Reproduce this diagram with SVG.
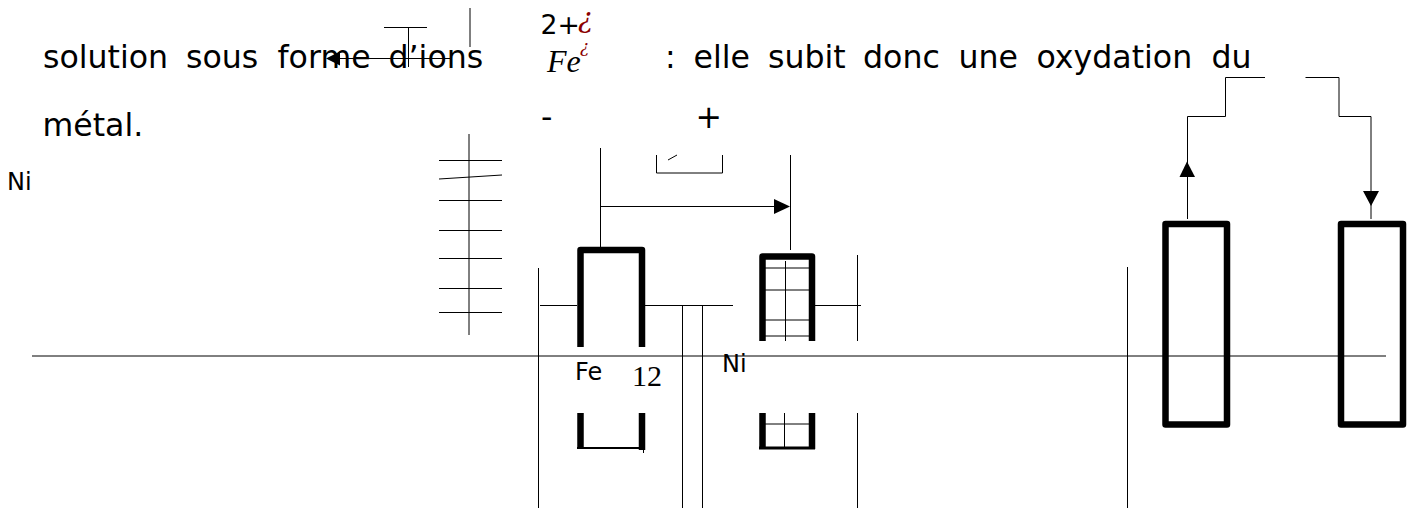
<svg xmlns="http://www.w3.org/2000/svg" width="1409" height="508" viewBox="0 0 1409 508">
<style>
.t{font-family:"DejaVu Sans",sans-serif;fill:#000}
.m{font-size:31.600px}
.s{font-size:24px}
.f{font-family:"Liberation Serif",serif;fill:#000}
.r{font-family:"DejaVu Serif",serif;font-style:italic;fill:#8b0000}
.l{fill:none;stroke:#000;stroke-width:1}
.e{fill:none;stroke:#000;stroke-width:6.500;stroke-linejoin:round}
</style>
<rect width="1409" height="508" fill="#fff"/>
<g id="texts">
<text class="t m" x="43" y="67.500">solution</text>
<text class="t m" x="186" y="67.500">sous</text>
<text class="t m" x="277.500" y="67.500">forme</text>
<text class="t m" x="388.500" y="67.500">d’ions</text>
<text class="t m" x="665" y="67.500">:</text>
<text class="t m" x="693.500" y="67.500">elle</text>
<text class="t m" x="768" y="67.500">subit</text>
<text class="t m" x="863" y="67.500">donc</text>
<text class="t m" x="958.500" y="67.500">une</text>
<text class="t m" x="1036.500" y="67.500">oxydation</text>
<text class="t m" x="1211.500" y="67.500">du</text>
<text class="t m" x="42.500" y="135.500">métal.</text>
<text class="t s" x="7" y="189.500">Ni</text>
<text class="t" font-size="26.670" x="540.500" y="34">2+</text>
<text class="r" font-size="28" x="578" y="27">¿</text>
<text class="f" font-size="32" font-style="italic" x="547" y="71.500">Fe</text>
<text class="r" font-size="17" x="580" y="52">¿</text>
<text class="t m" x="541" y="127.500">-</text>
<text class="t m" x="695.500" y="127.500">+</text>
<text class="t s" x="575" y="380">Fe</text>
<text class="f" font-size="30" x="632" y="385.500">12</text>
<text class="t s" x="722" y="371.500">Ni</text>
</g>
<g id="connectors">
<path class="l" d="M384 27.500H427M408.500 27V67M470 8V47M450 58.500H330"/>
<path d="M326 58.500L340 51.500V65.500Z"/>
<path class="l" d="M469 134V335M439 160.500H502M439 179L502 175M439 200.500H502M439 230.500H502M439 258.500H502M439 288.500H502M439 312.500H502"/>
<path class="l" d="M600.500 148V248M790.500 155V250M600.500 206.500H776"/>
<path d="M790 206.500L774 199V214Z"/>
<path class="l" d="M656.500 155V173H722.500V155M668 160L677 155"/>
<path class="l" d="M540 305.500H577M645 305.500H733M815 305.500H861M702.500 305.500V508M682.500 305.500V508M538.500 268V508M857.500 255V341M857.500 413V508M1127.500 267V508M32 356H1386"/>
<path class="l" d="M1187.500 219V116.500H1225.500V77.500H1265M1305.500 77.500H1339V116.500H1371V219"/>
<path d="M1187 161.500L1179.500 177H1195Z"/>
<path d="M1371 206L1363 191H1379Z"/>
</g>
<g id="electrode-fe">
<path class="e" d="M580.500 347V250H642V347"/>
<path class="e" d="M580.500 413V447M642 413V450"/>
<path d="M577 447H645V449H644V453H643V449H577Z"/>
</g>
<g id="electrode-ni">
<path class="e" d="M762.500 341V256.500H812V341"/>
<path class="e" d="M762.500 413V449M812 413V449"/>
<path d="M759 446.500H815V449.500H759Z"/>
<path class="l" d="M765 268H809M765 290H809M765 320H809M765 336H809M785.500 261V341M765 424H809M784.500 413V447"/>
</g>
<g id="rect-left"><rect class="e" x="1165.500" y="224" width="61.500" height="200.500"/></g>
<g id="rect-right"><rect class="e" x="1341" y="224" width="62" height="200.500"/></g>
</svg>
